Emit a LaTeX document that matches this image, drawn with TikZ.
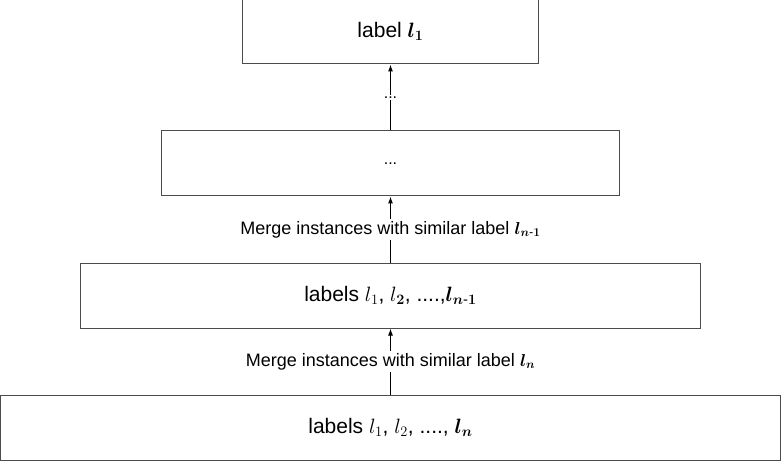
\documentclass[tikz,border=0pt]{standalone}
\usepackage{fontspec}
\setmainfont{Liberation Sans}
\usepackage{amsmath}
\usepackage{amssymb}
\usetikzlibrary{positioning,arrows.meta}
\tikzstyle{block} = [draw=black!70, line width=1pt, rectangle, minimum height=65pt, font=\fontsize{21}{25}\selectfont]
\tikzstyle{merge} = [fill=white, inner sep=2pt, font=\fontsize{18}{21}\selectfont]
\tikzstyle{dots} = [fill=white, inner sep=2pt, font=\fontsize{16}{18}\selectfont]

\begin{document}
\begin{tikzpicture}[node distance=66pt, >={Latex[length=7pt,width=5pt]}]
\useasboundingbox (-390.5pt,-33.5pt) rectangle (390.5pt,427.5pt);

\node [block, minimum width=780pt] (all) {labels $l_1$, $l_2$, ...., $\boldsymbol{l_n}$};
\node [block, minimum width=619pt, above=of all] (most) {labels $l_1$, $l_{\boldsymbol{2}}$, ....,$\boldsymbol{l_{n\text{-}1}}$};
\node [block, minimum width=457pt, above=of most, font=\fontsize{16}{18}\selectfont] (rest) {...};
\node [block, minimum width=296pt, above=of rest] (first) {label $\boldsymbol{l_1}$};

\draw [->, line width=1pt] (all) -- node [merge] {Merge instances with similar label $\boldsymbol{l_n}$} (most);
\draw [->, line width=1pt] (most) -- node [merge] {Merge instances with similar label $\boldsymbol{l_{n\text{-}1}}$} (rest);
\draw [->, line width=1pt] (rest) -- node [dots] {...} (first);
\end{tikzpicture}
\end{document}
